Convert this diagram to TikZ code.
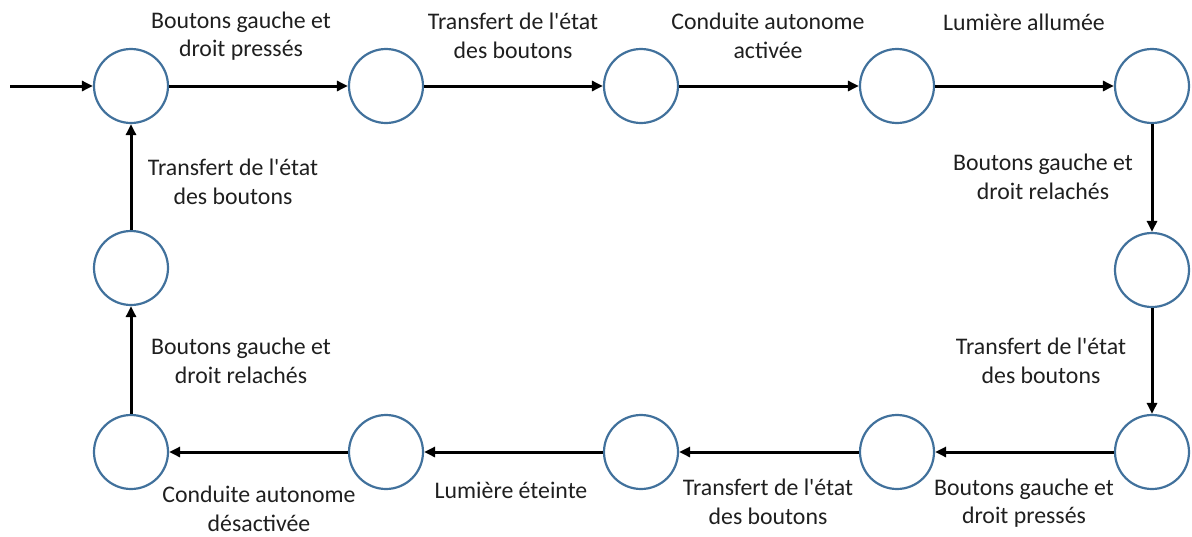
\documentclass[tikz,border=0pt]{standalone}
\usepackage{fontspec}
\newfontfamily\lblfont{Carlito}
\usetikzlibrary{arrows.meta}
\definecolor{circblue}{HTML}{41719C}
\begin{document}
\begin{tikzpicture}[x=1pt,y=-1pt,
  state/.style={circle,draw=circblue,line width=2.2pt,minimum size=74pt,inner sep=0pt},
  conn/.style={line width=3pt,-{Triangle[length=11pt,width=10pt]}},
  lbl/.style={font=\lblfont\fontsize{23.8}{28.5}\selectfont,align=center,text=black!88,inner sep=0pt}]
\useasboundingbox (0,0) rectangle (1192,536);
\node[state] (t1) at (131,86) {};
\node[state] (t2) at (386,86) {};
\node[state] (t3) at (641,86) {};
\node[state] (t4) at (897,86) {};
\node[state] (t5) at (1152,86) {};
\node[state] (r1) at (1152,270) {};
\node[state] (b5) at (1152,452) {};
\node[state] (b4) at (897,452) {};
\node[state] (b3) at (641,452) {};
\node[state] (b2) at (386,452) {};
\node[state] (b1) at (131,452) {};
\node[state] (l1) at (131,268) {};
\coordinate (start) at (10,86);
\draw[conn] (start) -- (t1);
\draw[conn] (t1) -- (t2);
\draw[conn] (t2) -- (t3);
\draw[conn] (t3) -- (t4);
\draw[conn] (t4) -- (t5);
\draw[conn] (t5) -- (r1);
\draw[conn] (r1) -- (b5);
\draw[conn] (b5) -- (b4);
\draw[conn] (b4) -- (b3);
\draw[conn] (b3) -- (b2);
\draw[conn] (b2) -- (b1);
\draw[conn] (b1) -- (l1);
\draw[conn] (l1) -- (t1);
\node[lbl] (a1) at (241,36) {Boutons gauche et\\droit pressés};
\node[lbl] (a2) at (513,36) {Transfert de l'état\\des boutons};
\node[lbl] (a3) at (768,36) {Conduite autonome\\activée};
\node[lbl] (a4) at (1024,22) {Lumière allumée};
\node[lbl] (a5) at (1043,177) {Boutons gauche et\\droit relachés};
\node[lbl] (a6) at (1041,361) {Transfert de l'état\\des boutons};
\node[lbl] (a7) at (1024,503) {Boutons gauche et\\droit pressés};
\node[lbl] (a8) at (768,502) {Transfert de l'état\\des boutons};
\node[lbl] (a9) at (511,490) {Lumière éteinte};
\node[lbl] (a10) at (259,509) {Conduite autonome\\désactivée};
\node[lbl] (a11) at (241,361) {Boutons gauche et\\droit relachés};
\node[lbl] (a12) at (233,182) {Transfert de l'état\\des boutons};
\end{tikzpicture}
\end{document}
